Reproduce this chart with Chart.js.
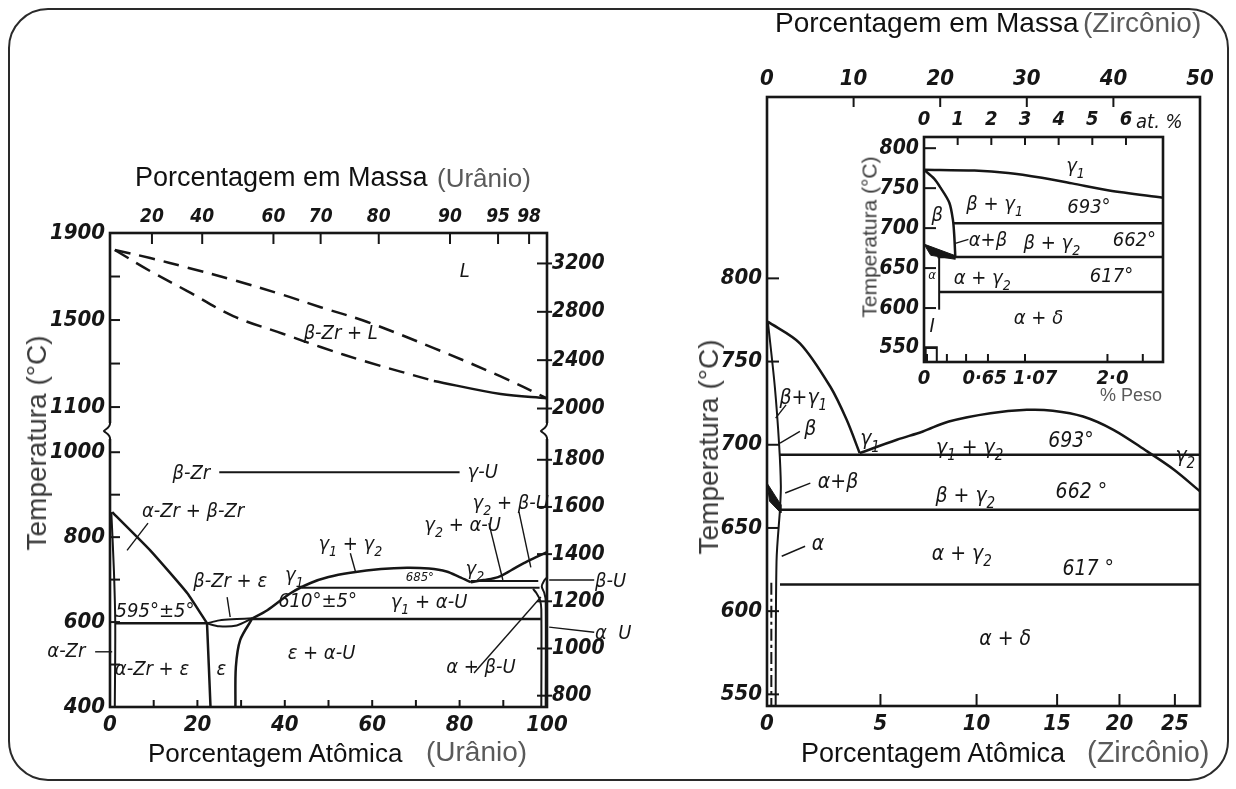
<!DOCTYPE html>
<html>
<head>
<meta charset="utf-8">
<script src="https://cdn.jsdelivr.net/npm/chart.js@4.4.1/dist/chart.umd.min.js"></script>
<style>
html, body { margin: 0; padding: 0; background: #fff; }
#page { position: relative; width: 1236px; height: 789px; overflow: hidden; font-family: "Liberation Sans", Arial, sans-serif; }
#frame { position: absolute; left: 8px; top: 8px; width: 1217px; height: 769px; border: 2.5px solid #2a2a2a; border-radius: 40px; }
.box { position: absolute; }
.ttl { position: absolute; line-height: 1; white-space: nowrap; color: #111; }
.grey { color: #5a5a5a; }
.vt { position: absolute; line-height: 1; white-space: nowrap; color: #3a3a3a; transform: translate(-50%, -50%) rotate(-90deg); }
</style>
</head>
<body>
<div id="page">
  <div id="frame"></div>
  <div class="box" style="left:0;top:0;width:640px;height:789px"><canvas id="uzr"></canvas></div>
  <div class="box" style="left:640px;top:0;width:596px;height:789px"><canvas id="zr"></canvas></div>
  <div class="box" style="left:840px;top:95px;width:400px;height:310px"><canvas id="inset"></canvas></div>

  <div class="ttl" style="left:135px;top:164px;font-size:27px">Porcentagem em Massa</div>
  <div class="ttl grey" style="left:437px;top:165px;font-size:26px">(Urânio)</div>
  <div class="ttl" style="left:148px;top:740px;font-size:26px">Porcentagem Atômica</div>
  <div class="ttl grey" style="left:426px;top:738px;font-size:28px">(Urânio)</div>
  <div class="ttl" style="left:775px;top:9px;font-size:28px">Porcentagem em Massa</div>
  <div class="ttl grey" style="left:1083px;top:9px;font-size:28px">(Zircônio)</div>
  <div class="ttl" style="left:801px;top:740px;font-size:27px">Porcentagem Atômica</div>
  <div class="ttl grey" style="left:1087px;top:738px;font-size:29px">(Zircônio)</div>
  <div class="ttl grey" style="left:1100px;top:386px;font-size:18px">% Peso</div>

  <div class="vt" style="left:37px;top:443px;font-size:28px">Temperatura (°C)</div>
  <div class="vt" style="left:709px;top:447px;font-size:28px">Temperatura (°C)</div>
  <div class="vt" style="left:869px;top:237px;font-size:21px">Temperatura (°C)</div>
</div>

<script>
const INK = '#161616';
const HAND = '"DejaVu Sans Condensed", "Liberation Sans Narrow", "DejaVu Sans", sans-serif';

// ---------- U-Zr diagram (left): x = at.% U, y = °C ----------
const uAtomicTicks = [0, 10, 20, 30, 40, 50, 60, 70, 80, 90, 100];
const uMassTicks = [20, 40, 60, 70, 80, 90, 95, 98];
const uMassTickAt = [9.6, 21.1, 37.4, 48.2, 61.5, 77.8, 88.8, 95.9];
const tLowTicks = [400, 500, 600, 700, 800, 900, 1000];
const tHighTicks = [1100, 1300, 1500, 1700, 1900];
const fLowTicks = [800, 1000, 1200, 1400, 1600, 1800];
const fHighTicks = [2000, 2400, 2800, 3200];

const uLiquidus = [[1.1, 1822], [9.2, 1785], [17.7, 1741], [28.2, 1684], [39.7, 1615], [48.2, 1559], [58.9, 1491], [74.1, 1371], [89.4, 1241], [100, 1140]];
const uSolidusDashed = [[1.1, 1822], [9.2, 1725], [17.7, 1633], [28.2, 1518], [39.7, 1436], [48.2, 1376], [58.9, 1307], [74.1, 1220]];
const uSolidus = [[74.1, 1220], [89.4, 1160], [100, 1140]];
const uBetaGamma = [[25, 953], [80, 953]];
const uAlphaBetaZr = [[0.5, 859], [9.2, 769], [17.7, 668], [22.2, 597]];
const uAlphaZrSolvus = [[0.3, 859], [0.9, 720], [1.2, 597], [1.1, 400]];
const uLine595 = [[1.2, 597], [22.2, 597]];
const uEpsLeft = [[22.2, 597], [22.6, 500], [23.0, 400]];
const uLensTop = [[22.2, 597], [25, 604], [29, 607], [32.6, 609]];
const uLensBottom = [[22.2, 597], [25, 590], [29, 592], [32.6, 609]];
const uEpsRight = [[32.6, 609], [29.8, 558], [28.8, 494], [28.7, 400]];
const uLine610 = [[32.6, 607], [98.6, 607]];
const uGamma1 = [[32.6, 609], [36, 628], [41.3, 668], [45.9, 692], [50, 706], [55, 716], [62, 725], [68, 728], [73, 726], [77, 719], [80, 706], [82.6, 694]];
const uLine685 = [[43.8, 681], [98.3, 681]];
const uLine693 = [[82.6, 697], [98, 697]];
const uGamma2 = [[82.6, 694], [85.5, 699], [88.8, 706], [91.8, 722], [94.7, 739], [97.5, 753], [100, 765]];
const uAlphaUSolvus = [[98.7, 400], [98.7, 630], [98.4, 652], [97.6, 668], [96.8, 678]];
const uBetaUBound = [[99.7, 400], [99.7, 650], [99.4, 668], [98.8, 684], [99.3, 697], [100, 705]];
const uLeaders = [
  [[0.5, 530], [-3.4, 530]],
  [[110.8, 699], [100.5, 699]],
  [[110.8, 576], [100.5, 588]],
  [[93.6, 859], [96.3, 729]],
  [[86.7, 833], [89.9, 699]],
  [[83.3, 480], [98.6, 659]],
  [[55, 762], [56.2, 718]],
  [[26.8, 659], [27.5, 612]],
  [[3.9, 769], [8.7, 833]]
];
const uLabels = [
  ['L', 81.2, 1721, 'yHi'],
  ['β-Zr + L', 52.8, 1435, 'yHi'],
  ['β-Zr', 18.6, 950, 'yLo'],
  ['γ-U', 85.3, 951, 'yLo'],
  ['α-Zr + β-Zr', 19, 859, 'yLo'],
  ['β-Zr + ε', 27.5, 694, 'yLo'],
  ['γ_1', 42.2, 708, 'yLo'],
  ['γ_1 + γ_2', 55, 781, 'yLo'],
  ['γ_2 + α-U', 80.7, 826, 'yLo'],
  ['γ_2 + β-U', 91.7, 878, 'yLo'],
  ['γ_2', 83.5, 724, 'yLo'],
  ['610°±5°', 47.5, 647, 'yLo'],
  ['595°±5°', 10.3, 624, 'yLo'],
  ['γ_1 + α-U', 73, 645, 'yLo'],
  ['ε + α-U', 48.4, 525, 'yLo'],
  ['α-Zr + ε', 9.6, 487, 'yLo'],
  ['ε', 25.5, 487, 'yLo'],
  ['α + β-U', 84.9, 492, 'yLo'],
  ['α-Zr', -10, 530, 'yLo'],
  ['β-U', 111, 694, 'yLo', 'left'],
  ['α  U', 111, 572, 'yLo', 'left']
];
const uSmallLabels = [['685°', 70.9, 704, 'yLo']];

// ---------- Zr-rich side (right): x = mass % Zr, y = °C ----------
const zrMassTicks = [0, 10, 20, 30, 40, 50];
const zrAtomicTicks = [0, 5, 10, 15, 20, 25];
const zrAtomicTickAt = [0, 13.1, 24.2, 33.5, 40.7, 47.1];
const zrTempTicks = [550, 600, 650, 700, 750, 800];

const zrLeft = [[0.1, 774], [3.8, 761], [7.3, 735], [9.2, 715], [10.7, 695]];
const zrDome = [[10.7, 695], [15, 703], [18, 708], [21, 714], [25.8, 719], [30, 721], [33, 720.5], [36.5, 717], [40, 709], [43.9, 696], [47, 685], [50, 672]];
const zrLine693 = [[1.5, 694], [50, 694]];
const zrLine662 = [[1.5, 661], [50, 661]];
const zrLine617 = [[1.5, 616], [50, 616]];
const zrBetaLens = [[0.1, 774], [0.9, 735], [1.4, 700], [1.6, 675], [1.5, 661]];
const zrAlpha = [[1.5, 661], [1.1, 630], [1.0, 543]];
const zrDashDot = [[0.5, 617], [0.5, 543]];
const zrBlob = [[0, 677], [1.6, 664], [1.6, 659], [0.3, 666], [0, 677]];
const zrLeaders = [
  [[1.5, 701], [3.8, 708]],
  [[2.1, 671], [5.0, 677]],
  [[1.7, 633], [4.4, 639]],
  [[1.0, 716], [2.2, 724]]
];
const zrLabels = [
  ['β+γ_1', 4.2, 728],
  ['β', 5.0, 709],
  ['γ_1', 11.9, 703],
  ['γ_1 + γ_2', 23.4, 698],
  ['693°', 35.1, 702],
  ['γ_2', 48.3, 693],
  ['α+β', 8.2, 677],
  ['β + γ_2', 22.9, 669],
  ['662 °', 36.3, 671],
  ['α', 5.9, 640],
  ['α + γ_2', 22.5, 634],
  ['617 °', 37.1, 625],
  ['α + δ', 27.5, 583]
];

// ---------- inset: x = at.% Zr, y = °C ----------
const insetAtTicks = [0, 1, 2, 3, 4, 5, 6];
const insetWtLabels = ['0', '0·65', '1·07', '2·0'];
const insetWtLabelAt = [0, 1.8, 3.3, 5.6];
const insetWtMinorAt = [0.09, 0.68, 1.25, 1.9, 3.0, 5.45, 6.5];
const insetTempTicks = [550, 600, 650, 700, 750, 800];

const inGamma1 = [[0, 773], [1.5, 772], [2.5, 769], [3.5, 763], [4.4, 756], [5.5, 747], [7.1, 738]];
const inBeta = [[0, 773], [0.3, 762], [0.5, 750], [0.75, 732], [0.86, 710], [0.9, 690], [0.93, 664]];
const inLine693 = [[0.86, 706], [7.1, 706]];
const inLine662 = [[0.4, 664], [7.1, 664]];
const inLine617 = [[0.45, 620], [7.1, 620]];
const inAlpha = [[0.45, 664], [0.45, 598]];
const inBox = [[0.05, 532.5], [0.05, 551], [0.38, 551], [0.38, 532.5]];
const inBlob = [[0, 680], [0.9, 666], [0.93, 661], [0.2, 666], [0, 680]];
const inLeaders = [[[0.93, 681], [1.32, 686]]];
const inLabels = [
  ['γ_1', 4.5, 777],
  ['β + γ_1', 2.1, 729],
  ['693°', 4.9, 726],
  ['β', 0.39, 716],
  ['α+β', 1.9, 684],
  ['β + γ_2', 3.8, 680],
  ['662°', 6.25, 684],
  ['α + γ_2', 1.73, 637],
  ['617°', 5.57, 639],
  ['α + δ', 3.4, 586],
  ['I', 0.24, 576]
];
const inSmallLabels = [['α', 0.24, 641]];

// ---------- helpers ----------
function pts(arr) {
  return arr.map(([x, y]) => ({ x, y }));
}

function curve(arr, yAxisID, extra) {
  return Object.assign({
    data: pts(arr), yAxisID, showLine: true, pointRadius: 0, borderColor: INK,
    borderWidth: 2.5, tension: 0.3, fill: false, clip: false
  }, extra || {});
}

function leader(arr, yAxisID) {
  return curve(arr, yAxisID, { borderWidth: 1.4, tension: 0 });
}

function axis(position, min, max, values, label, size, extra) {
  return Object.assign({
    type: 'linear', position, min, max,
    grid: { display: false, drawTicks: false },
    border: { display: false },
    afterBuildTicks: s => { s.ticks = values.map(v => ({ value: v })); },
    ticks: {
      autoSkip: false, maxRotation: 0, minRotation: 0, padding: 5, color: INK,
      font: { family: HAND, size: size, style: 'italic', weight: 'bold' },
      callback: label
    }
  }, extra || {});
}

// text with "_" marking the next character as a subscript
function richText(ctx, str, x, y, size, align) {
  const parts = [];
  for (let i = 0; i < str.length; i++) {
    if (str[i] === '_') { parts.push({ t: str[i + 1], sub: true }); i++; }
    else parts.push({ t: str[i], sub: false });
  }
  const big = `italic ${size}px ${HAND}`;
  const small = `italic ${Math.round(size * 0.7)}px ${HAND}`;
  let w = 0;
  parts.forEach(p => { ctx.font = p.sub ? small : big; p.w = ctx.measureText(p.t).width; w += p.w; });
  let cx = align === 'left' ? x : align === 'right' ? x - w : x - w / 2;
  ctx.textAlign = 'left';
  ctx.textBaseline = 'middle';
  parts.forEach(p => {
    ctx.font = p.sub ? small : big;
    ctx.fillText(p.t, cx, p.sub ? y + size * 0.38 : y);
    cx += p.w;
  });
}

function tickMark(ctx, a, position, p, inside, outside) {
  ctx.beginPath();
  if (position === 'left') { ctx.moveTo(a.left - outside, p); ctx.lineTo(a.left + inside, p); }
  if (position === 'right') { ctx.moveTo(a.right + outside, p); ctx.lineTo(a.right - inside, p); }
  if (position === 'bottom') { ctx.moveTo(p, a.bottom + outside); ctx.lineTo(p, a.bottom - inside); }
  if (position === 'top') { ctx.moveTo(p, a.top - outside); ctx.lineTo(p, a.top + inside); }
  ctx.stroke();
}

// frame, inward tick marks and phase labels
function decor(spec) {
  return {
    id: 'decor',
    afterDatasetsDraw(chart) {
      const ctx = chart.ctx, a = chart.chartArea;
      ctx.save();
      ctx.strokeStyle = INK;
      ctx.fillStyle = INK;
      ctx.lineWidth = 2;
      Object.entries(spec.ticks).forEach(([id, [inside, outside]]) => {
        const s = chart.scales[id];
        s.ticks.forEach(t => tickMark(ctx, a, s.position, s.getPixelForValue(t.value), inside, outside));
      });
      (spec.minor || []).forEach(([id, values, len]) => {
        const s = chart.scales[id];
        values.forEach(v => tickMark(ctx, a, s.position, s.getPixelForValue(v), len, 0));
      });
      ctx.lineWidth = 2.6;
      ctx.strokeRect(a.left, a.top, a.right - a.left, a.bottom - a.top);
      const xs = chart.scales.x;
      spec.labels.forEach(([t, x, y, yId, align]) => {
        richText(ctx, t, xs.getPixelForValue(x), chart.scales[yId || 'y'].getPixelForValue(y), spec.size, align);
      });
      (spec.small || []).forEach(([t, x, y, yId]) => {
        richText(ctx, t, xs.getPixelForValue(x), chart.scales[yId || 'y'].getPixelForValue(y), spec.smallSize);
      });
      if (spec.extra) spec.extra(chart, ctx);
      ctx.restore();
    }
  };
}

const common = {
  responsive: true, maintainAspectRatio: false, animation: false, devicePixelRatio: 1,
  plugins: { legend: { display: false }, tooltip: { enabled: false } }
};

// ---------- left chart ----------
const lowWeight = 276, highWeight = 198;
new Chart(document.getElementById('uzr'), {
  type: 'scatter',
  data: {
    datasets: [
      curve(uLiquidus, 'yHi', { borderDash: [16, 9], tension: 0.35 }),
      curve(uSolidusDashed, 'yHi', { borderDash: [16, 9], tension: 0.35 }),
      curve(uSolidus, 'yHi', { tension: 0.35 }),
      curve(uBetaGamma, 'yLo', { borderWidth: 2 }),
      curve(uAlphaBetaZr, 'yLo', { tension: 0.15 }),
      curve(uAlphaZrSolvus, 'yLo', { borderWidth: 2 }),
      curve(uLine595, 'yLo'),
      curve(uEpsLeft, 'yLo'),
      curve(uLensTop, 'yLo', { borderWidth: 2 }),
      curve(uLensBottom, 'yLo', { borderWidth: 2 }),
      curve(uEpsRight, 'yLo'),
      curve(uLine610, 'yLo'),
      curve(uGamma1, 'yLo'),
      curve(uLine685, 'yLo', { borderWidth: 2 }),
      curve(uLine693, 'yLo', { borderWidth: 2 }),
      curve(uGamma2, 'yLo'),
      curve(uAlphaUSolvus, 'yLo', { borderWidth: 2 }),
      curve(uBetaUBound, 'yLo', { borderWidth: 2 }),
      ...uLeaders.map(l => leader(l, 'yLo'))
    ]
  },
  options: Object.assign({}, common, {
    layout: { padding: { left: 50, right: 33, top: 205, bottom: 54 } },
    scales: {
      x: axis('bottom', 0, 100, uAtomicTicks, v => (v % 20 === 0 ? v : ''), 22,
        { afterFit: s => { s.height = 28; } }),
      xTop: axis('top', 0, 100, uMassTickAt, (v, i) => uMassTicks[i], 19,
        { afterFit: s => { s.height = 28; } }),
      yLo: axis('left', 400, 1050, tLowTicks, v => (v % 200 === 0 ? v : ''), 22,
        { stack: 'L', stackWeight: lowWeight, afterFit: s => { s.width = 60; } }),
      yHi: axis('left', 990, 1900, tHighTicks, v => ((v - 1100) % 400 === 0 ? v : ''), 22,
        { stack: 'L', stackWeight: highWeight, afterFit: s => { s.width = 60; } }),
      // right-hand boxes stack in declaration order, so the upper range comes first
      fHi: axis('right', 1814, 3452, fHighTicks, v => v, 21,
        { stack: 'R', stackWeight: highWeight, afterFit: s => { s.width = 60; } }),
      fLo: axis('right', 752, 1922, fLowTicks, v => v, 21,
        { stack: 'R', stackWeight: lowWeight, afterFit: s => { s.width = 60; } })
    }
  }),
  plugins: [decor({
    ticks: { yLo: [10, 0], yHi: [10, 0], fLo: [10, 5], fHi: [10, 5], x: [7, 0], xTop: [11, 0] },
    labels: uLabels, size: 20, small: uSmallLabels, smallSize: 13,
    extra(chart, ctx) {
      const yb = chart.scales.yLo.top, a = chart.chartArea;
      [a.left, a.right].forEach(x => {
        ctx.fillStyle = '#fff';
        ctx.fillRect(x - 3, yb - 8, 6, 16);
        ctx.strokeStyle = INK;
        ctx.lineWidth = 2;
        ctx.beginPath();
        ctx.moveTo(x, yb - 9);
        ctx.bezierCurveTo(x + 1, yb - 3, x - 5, yb - 2, x - 6, yb);
        ctx.bezierCurveTo(x - 5, yb + 2, x + 1, yb + 3, x, yb + 9);
        ctx.stroke();
      });
    }
  })]
});

// ---------- right chart ----------
new Chart(document.getElementById('zr'), {
  type: 'scatter',
  data: {
    datasets: [
      curve(zrLeft, 'y', { tension: 0.3 }),
      curve(zrDome, 'y', { tension: 0.35 }),
      curve(zrLine693, 'y'),
      curve(zrLine662, 'y'),
      curve(zrLine617, 'y'),
      curve(zrBetaLens, 'y', { borderWidth: 2 }),
      curve(zrAlpha, 'y', { borderWidth: 2 }),
      curve(zrDashDot, 'y', { borderWidth: 2, borderDash: [12, 4, 3, 4] }),
      curve(zrBlob, 'y', { borderWidth: 1, tension: 0, fill: 'shape', backgroundColor: INK }),
      ...zrLeaders.map(l => leader(l, 'y'))
    ]
  },
  options: Object.assign({}, common, {
    layout: { padding: { left: 67, right: 36, top: 69, bottom: 55 } },
    scales: {
      x: axis('bottom', 0, 50, zrAtomicTickAt, (v, i) => zrAtomicTicks[i], 22,
        { afterFit: s => { s.height = 28; } }),
      xTop: axis('top', 0, 50, zrMassTicks, v => v, 22,
        { afterFit: s => { s.height = 28; } }),
      y: axis('left', 543, 909, zrTempTicks, v => v, 22,
        { afterFit: s => { s.width = 60; } })
    }
  }),
  plugins: [decor({
    ticks: { x: [12, 0], xTop: [10, 0], y: [12, 0] },
    labels: zrLabels, size: 21
  })]
});

// ---------- inset ----------
new Chart(document.getElementById('inset'), {
  type: 'scatter',
  data: {
    datasets: [
      curve(inGamma1, 'y', { tension: 0.3 }),
      curve(inBeta, 'y', { tension: 0.3 }),
      curve(inLine693, 'y'),
      curve(inLine662, 'y'),
      curve(inLine617, 'y'),
      curve(inAlpha, 'y', { borderWidth: 2 }),
      curve(inBox, 'y', { borderWidth: 2, tension: 0 }),
      curve(inBlob, 'y', { borderWidth: 1, tension: 0, fill: 'shape', backgroundColor: INK }),
      ...inLeaders.map(l => leader(l, 'y'))
    ]
  },
  options: Object.assign({}, common, {
    layout: { padding: { left: 40, right: 77, top: 12, bottom: 13 } },
    scales: {
      x: axis('bottom', 0, 7.1, insetWtLabelAt, (v, i) => insetWtLabels[i], 20,
        { afterFit: s => { s.height = 30; } }),
      xTop: axis('top', 0, 7.1, insetAtTicks, v => v, 20,
        { afterFit: s => { s.height = 30; } }),
      y: axis('left', 532.5, 814, insetTempTicks, v => v, 21,
        { afterFit: s => { s.width = 44; } })
    }
  }),
  plugins: [decor({
    ticks: { xTop: [8, 0], y: [12, 0] },
    minor: [['x', insetWtMinorAt, 8]],
    labels: inLabels, size: 20, small: inSmallLabels, smallSize: 13,
    extra(chart, ctx) {
      ctx.fillStyle = INK;
      richText(ctx, 'at. %', chart.scales.x.getPixelForValue(6.3), chart.chartArea.top - 14, 20, 'left');
    }
  })]
});
</script>
</body>
</html>
